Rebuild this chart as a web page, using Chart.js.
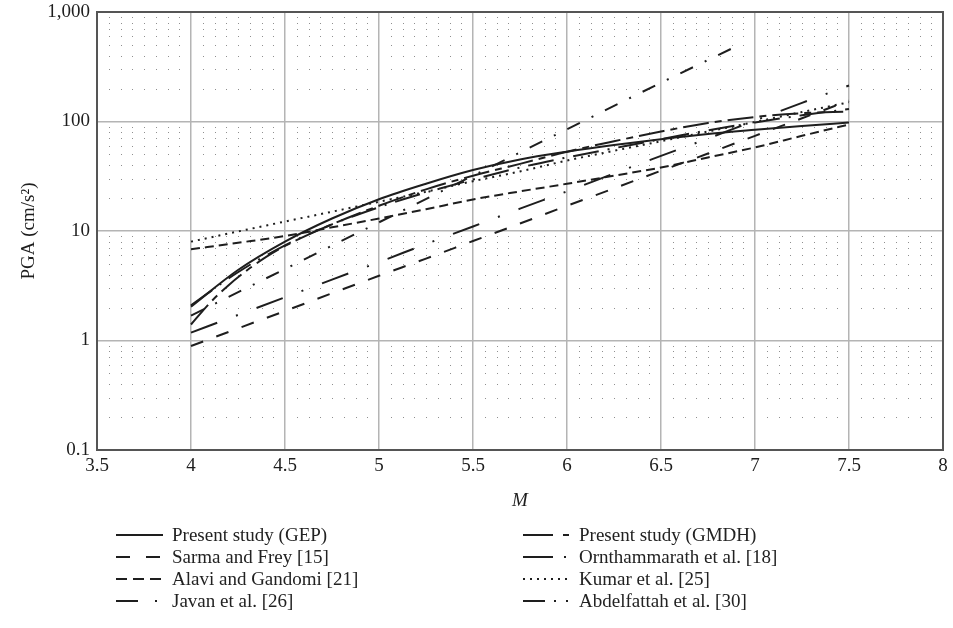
<!DOCTYPE html>
<html>
<head>
<meta charset="utf-8">
<script src="https://cdn.jsdelivr.net/npm/chart.js@4.4.1/dist/chart.umd.min.js"></script>
<style>
  body { margin: 0; background: #fff; }
  #wrap { position: relative; width: 953px; height: 628px; }
  #pga_chart { position: absolute; left: 0; top: 0; }
  .item { position: absolute; height: 22px; white-space: nowrap; font-family: "Liberation Serif", serif; font-size: 19px; color: #222; }
  .item canvas { position: absolute; left: 0; top: 5px; }
  .item span { position: absolute; left: 56px; top: 0; line-height: 22px; }
</style>
</head>
<body>
<div id="wrap">
  <canvas id="pga_chart" width="953" height="628"></canvas>
  <div id="legend"></div>
</div>
<script>
// magnitudes used by most of the curves
const magnitudes = [4, 4.25, 4.5, 4.75, 5, 5.25, 5.5, 5.75, 6, 6.25, 6.5, 6.75, 7, 7.25, 7.5];

const gep_pga = [2.04, 4.4, 8.0, 13, 19.5, 27, 36, 45, 53, 61, 69, 77, 84, 91, 98];
const sarma_pga = [0.89, 1.29, 1.86, 2.7, 3.9, 5.6, 8.1, 11.7, 17, 24.5, 35.5, 51, 74, 107, 155];
const alavi_pga = [6.8, 7.8, 9, 10.8, 13, 15.8, 19.4, 23, 27, 32, 38, 47, 58, 74, 94];
const javan_pga = [1.18, 1.71, 2.48, 3.6, 5.2, 7.6, 11, 16, 23, 33.5, 48.5, 70, 102, 148, 213];
const ornthammarath_pga = [2.1, 4.2, 7.4, 11.5, 16.5, 22.5, 29.5, 38, 47, 57, 69, 83, 98, 114, 130];
const kumar_pga = [8, 9.9, 12.2, 15, 18.5, 22.8, 28.5, 35, 44, 54, 66, 81, 99, 122, 150];

// GMDH rises fast at the low end, so it has its own magnitude steps
const gmdh_magnitudes = [4, 4.1, 4.2, 4.3, 4.4, 4.5, 4.75, 5, 5.25, 5.5, 5.75, 6, 6.25, 6.5, 6.75, 7, 7.25, 7.5];
const gmdh_pga = [1.4, 2.2, 3.2, 4.4, 5.8, 7.3, 11.5, 17, 24, 32, 41, 53, 66, 81, 97, 110, 119, 123];

// Abdelfattah stops short of M 7
const abdelfattah_magnitudes = [4, 4.5, 5, 5.5, 6, 6.5, 6.9];
const abdelfattah_pga = [1.69, 4.5, 12.0, 32, 85, 226, 485];

const y_ticks = [0.1, 1, 10, 100, 1000];
const minor_steps = [2, 3, 4, 5, 6, 7, 8, 9];

const FONT = '"Liberation Serif", "Times New Roman", serif';
const INK = '#1e1e1e';

function toPoints(mags, vals) {
    return mags.map((m, i) => ({ x: m, y: vals[i] }));
}

// label, points, dash on the plot, dash in the legend sample (legend is filled row by row)
const series = [
    { label: 'Present study (GEP)', data: toPoints(magnitudes, gep_pga), dash: [], key: [] },
    { label: 'Present study (GMDH)', data: toPoints(gmdh_magnitudes, gmdh_pga), dash: [26, 6, 7, 6], key: [30, 10, 6, 40] },
    { label: 'Sarma and Frey [15]', data: toPoints(magnitudes, sarma_pga), dash: [13, 14], key: [14, 16] },
    { label: 'Ornthammarath et al. [18]', data: toPoints(magnitudes, ornthammarath_pga), dash: [26, 9, 2, 9], key: [30, 11, 2, 40] },
    { label: 'Alavi and Gandomi [21]', data: toPoints(magnitudes, alavi_pga), dash: [9, 5], key: [11, 6] },
    { label: 'Kumar et al. [25]', data: toPoints(magnitudes, kumar_pga), dash: [2, 5], key: [2, 5] },
    { label: 'Javan et al. [26]', data: toPoints(magnitudes, javan_pga), dash: [28, 20, 2, 20], key: [22, 17, 2, 40] },
    { label: 'Abdelfattah et al. [30]', data: toPoints(abdelfattah_magnitudes, abdelfattah_pga), dash: [14, 13, 2, 13], key: [22, 9, 2, 10, 2, 40] }
];

const datasets = series.map(s => ({
    label: s.label,
    data: s.data,
    borderColor: INK,
    borderWidth: 2,
    borderDash: s.dash,
    pointRadius: 0,
    fill: false,
    cubicInterpolationMode: 'monotone'
}));

// dotted minor grid plus the closed frame round the plot
const plotFrame = {
    id: 'plotFrame',
    beforeDatasetsDraw(chart) {
        const { ctx, scales: { x, y } } = chart;
        ctx.save();
        ctx.fillStyle = '#8f8f8f';
        for (const d of [0.1, 1, 10, 100]) {
            for (const k of minor_steps) {
                const py = Math.round(y.getPixelForValue(d * k));
                for (let i = 1; i < 72; i++) {
                    if (i % 8 === 0) continue;
                    const px = Math.round(x.getPixelForValue(3.5 + i * 0.0625));
                    ctx.fillRect(px, py, 1, 1);
                }
            }
        }
        ctx.restore();
    },
    afterDraw(chart) {
        const { ctx, chartArea: a } = chart;
        ctx.save();
        ctx.strokeStyle = '#555';
        ctx.lineWidth = 2;
        ctx.strokeRect(a.left, a.top, a.right - a.left, a.bottom - a.top);
        ctx.restore();
    }
};

const canvas = document.getElementById('pga_chart');
new Chart(canvas, {
    type: 'line',
    data: { datasets: datasets },
    options: {
        responsive: false,
        animation: false,
        layout: { padding: { top: 12, right: 10, left: 0, bottom: 116 } },
        plugins: { legend: { display: false }, tooltip: { enabled: false } },
        scales: {
            x: {
                type: 'linear',
                min: 3.5,
                max: 8,
                ticks: { stepSize: 0.5, maxRotation: 0, padding: 5, color: INK,
                         font: { family: FONT, size: 19 }, callback: v => String(v) },
                grid: { color: '#b4b4b4', lineWidth: 1.5, drawTicks: false },
                border: { color: '#555', width: 2 },
                title: { display: true, text: 'M', color: INK, padding: { top: 6, bottom: 0 },
                         font: { family: FONT, size: 19, style: 'italic' } },
                afterFit: s => { s.height = 62; s.paddingLeft = 0; s.paddingRight = 0; }
            },
            y: {
                type: 'logarithmic',
                min: 0.1,
                max: 1000,
                afterBuildTicks: s => { s.ticks = y_ticks.map(v => ({ value: v })); },
                ticks: { padding: 7, color: INK, font: { family: FONT, size: 19 },
                         callback: v => v >= 1000 ? v.toLocaleString('en-US') : String(v) },
                grid: { color: '#b4b4b4', lineWidth: 1.5, drawTicks: false },
                border: { color: '#555', width: 2 },
                title: { display: true, text: 'PGA (cm/s²)', color: INK, padding: { top: 18, bottom: 0 },
                         font: { family: FONT, size: 19 } },
                afterFit: s => { s.width = 97; s.paddingTop = 0; s.paddingBottom = 0; }
            }
        }
    },
    plugins: [plotFrame]
});

// two-column legend under the plot
const legend = document.getElementById('legend');
const col_x = [116, 523];
const row_y = [524, 546, 568, 590];
series.forEach((s, i) => {
    const item = document.createElement('div');
    item.className = 'item';
    item.style.left = col_x[i % 2] + 'px';
    item.style.top = row_y[Math.floor(i / 2)] + 'px';
    const c = document.createElement('canvas');
    c.width = 47;
    c.height = 12;
    const g = c.getContext('2d');
    g.strokeStyle = INK;
    g.lineWidth = 2;
    g.setLineDash(s.key);
    g.beginPath();
    g.moveTo(0, 6);
    g.lineTo(47, 6);
    g.stroke();
    const t = document.createElement('span');
    t.textContent = s.label;
    item.appendChild(c);
    item.appendChild(t);
    legend.appendChild(item);
});
</script>
</body>
</html>
